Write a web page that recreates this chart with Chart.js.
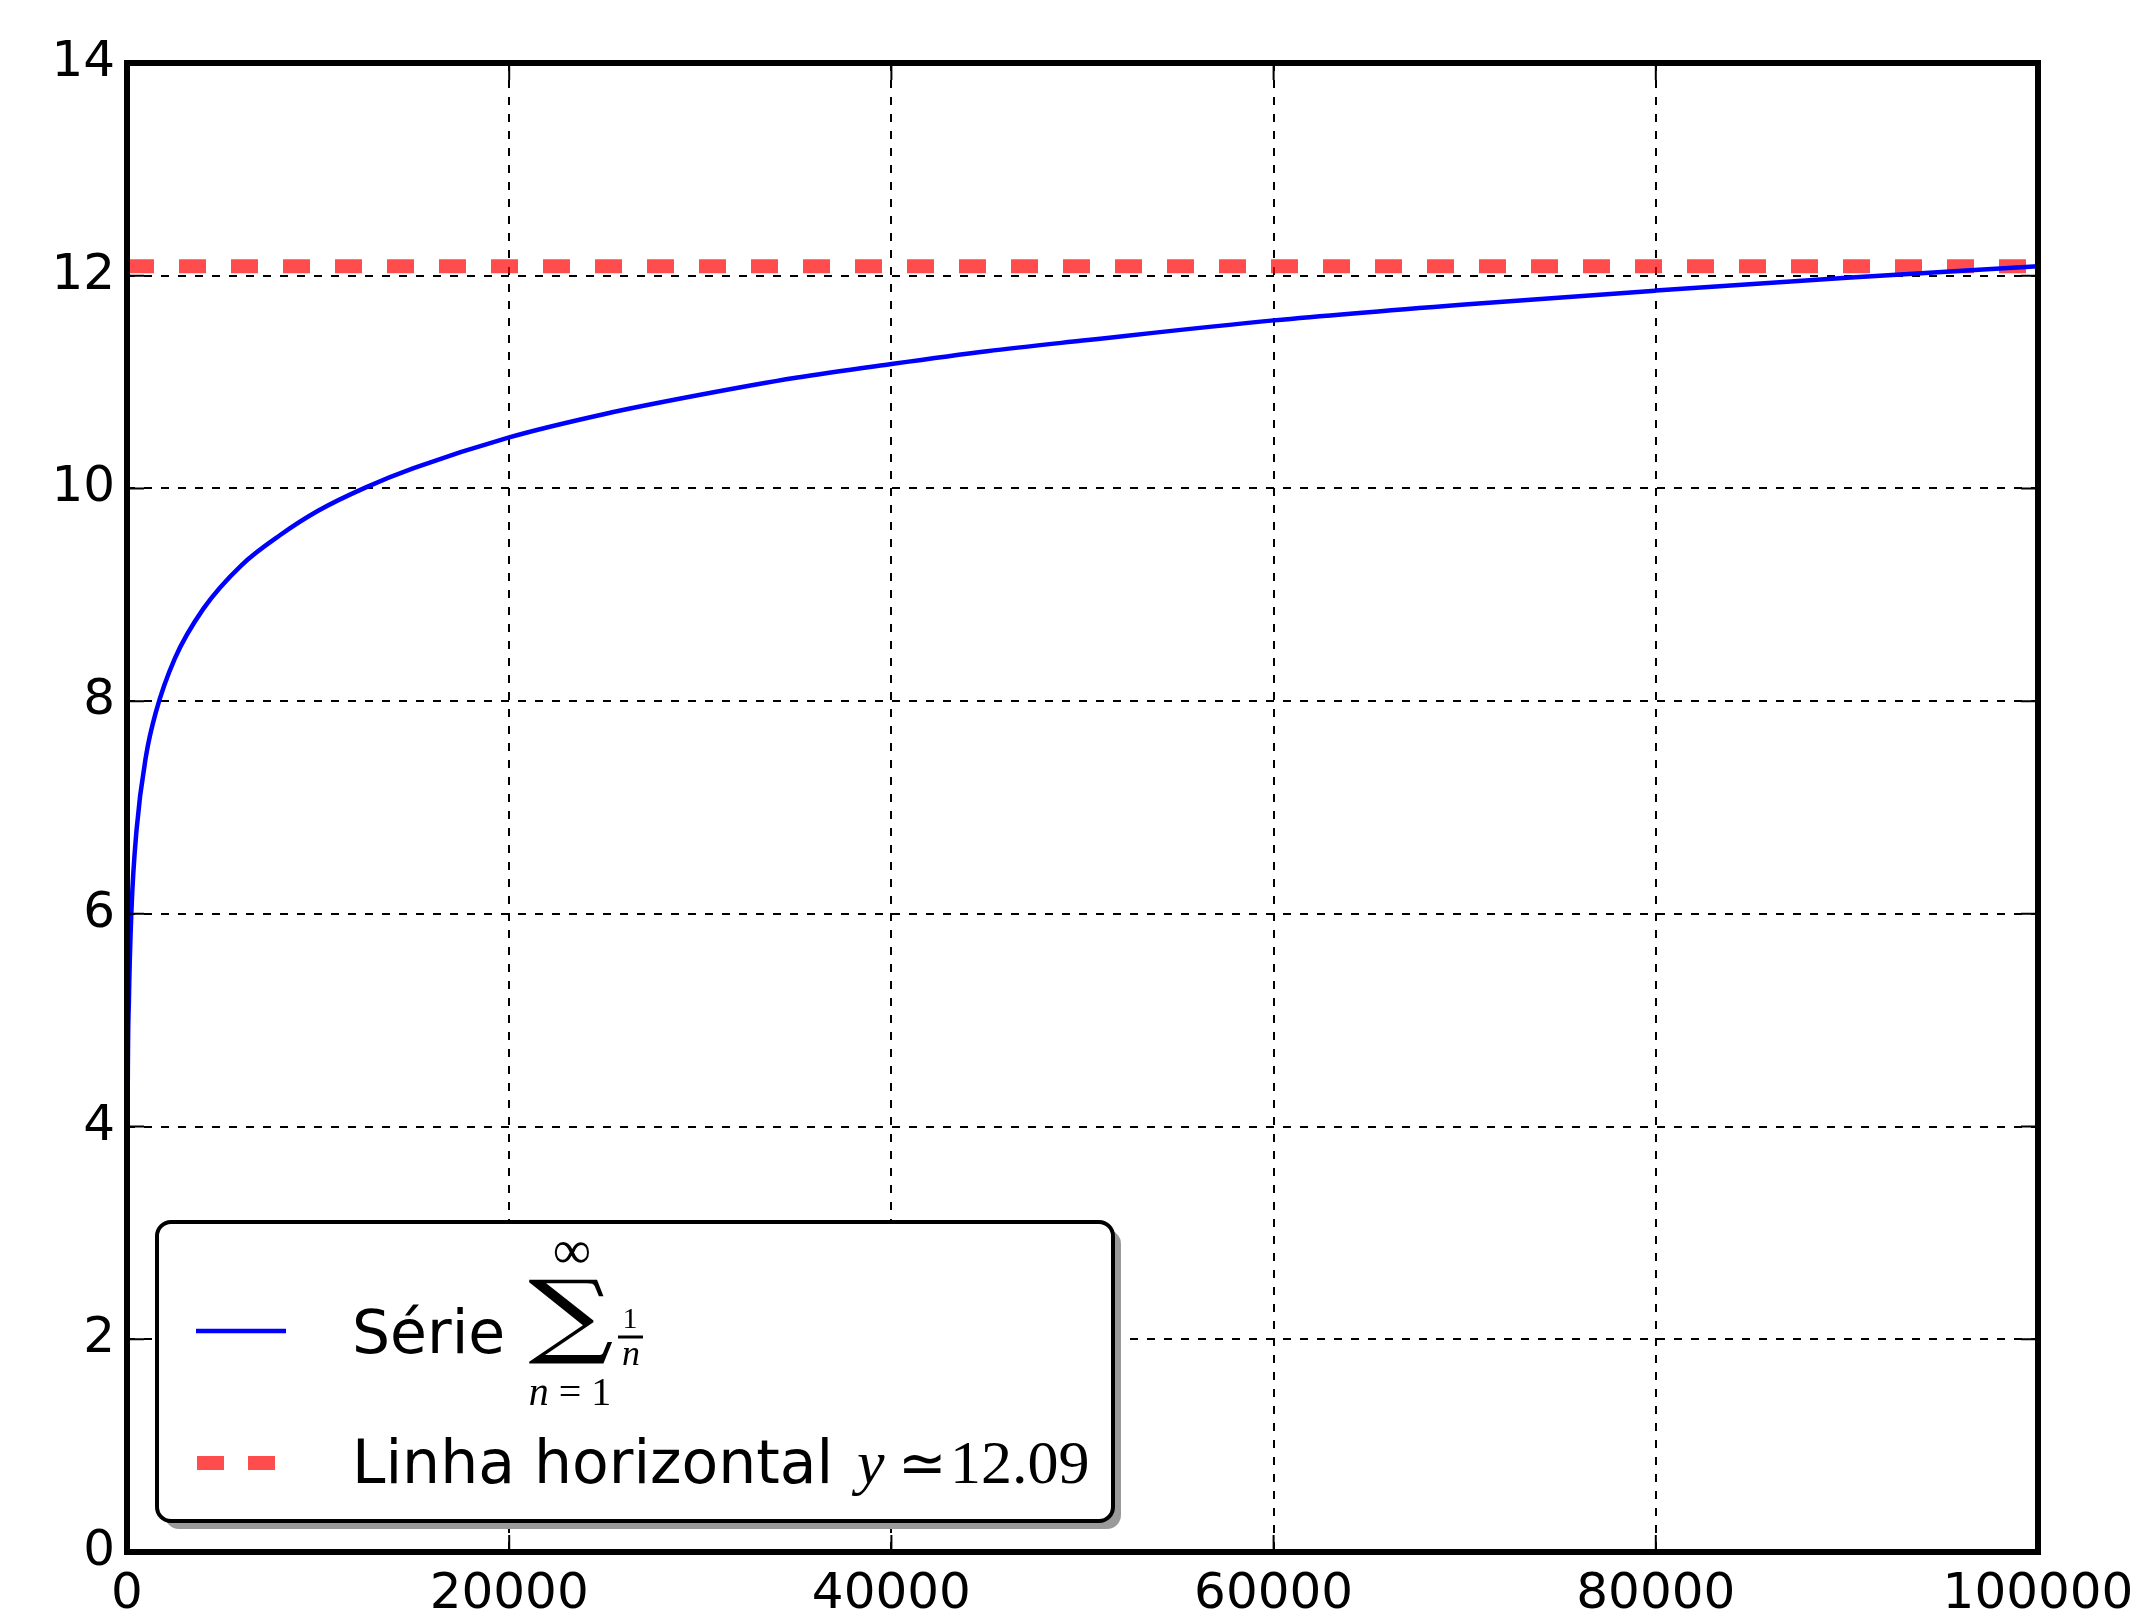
<!DOCTYPE html>
<html>
<head>
<meta charset="utf-8">
<script src="https://cdn.jsdelivr.net/npm/chart.js@4.4.1/dist/chart.umd.min.js"></script>
<style>
  html, body { margin: 0; padding: 0; background: #fff; }
  #wrap { position: relative; width: 2147px; height: 1618px; }
  #c { position: absolute; left: 0; top: 0; width: 2147px; height: 1618px; }
  #legend { position: absolute; left: 0; top: 0; pointer-events: none; }
</style>
</head>
<body>
<div id="wrap">
  <canvas id="c" width="2147" height="1618"></canvas>
  <svg id="legend" width="2147" height="1618" xmlns="http://www.w3.org/2000/svg">
    <rect x="165" y="1230" width="956" height="299" rx="14" fill="#9a9a9a"/>
    <rect x="157" y="1222" width="956" height="299" rx="14" fill="#fff" stroke="#000" stroke-width="4"/>
    <line x1="196" y1="1331" x2="286" y2="1331" stroke="#0000ff" stroke-width="4.5"/>
    <line x1="197" y1="1463" x2="278" y2="1463" stroke="rgba(255,0,0,0.7)" stroke-width="14" stroke-dasharray="27 24"/>
    <g font-family="DejaVu Sans" font-size="60" fill="#000">
      <text x="352" y="1353">Série</text>
      <text x="352" y="1483">Linha horizontal</text>
    </g>
    <g font-family="Liberation Serif" fill="#000">
      <text transform="translate(571,1346) scale(1.3,1)" font-family="DejaVu Serif" font-size="92" text-anchor="middle">∑</text>
      <text x="572" y="1268" font-size="54" text-anchor="middle">∞</text>
      <text x="570" y="1405" font-size="40" text-anchor="middle"><tspan font-style="italic">n</tspan> = 1</text>
      <text x="630" y="1328" font-size="30" text-anchor="middle">1</text>
      <line x1="618" y1="1337" x2="643" y2="1337" stroke="#000" stroke-width="3"/>
      <text x="631" y="1365" font-size="36" text-anchor="middle" font-style="italic">n</text>
      <text x="857" y="1483" font-size="62" font-style="italic">y</text>
      <text x="898" y="1483" font-size="58">≃</text>
      <text x="950" y="1483" font-size="62">12.09</text>
    </g>
  </svg>
</div>
<script>
// partial sums of the harmonic series
const seriesX = [1, 30, 100, 230, 500, 1000, 1500, 2500, 4000, 6000, 8000, 10000, 12500, 15000,
                 20000, 25000, 30000, 35000, 40000, 45000, 50000, 60000, 70000, 80000, 90000, 100000];
const seriesY = [1.0, 3.99, 5.19, 6.02, 6.79, 7.49, 7.89, 8.40, 8.87, 9.28, 9.56, 9.79, 10.01, 10.19,
                 10.48, 10.70, 10.88, 11.04, 11.17, 11.29, 11.39, 11.58, 11.73, 11.86, 11.98, 12.09];

// horizontal reference line
const lineX = [0, 100000];
const lineY = [12.09, 12.09];

const xTicks = [0, 20000, 40000, 60000, 80000, 100000];
const yTicks = [0, 2, 4, 6, 8, 10, 12, 14];

const toPoints = (xs, ys) => xs.map((x, i) => ({ x, y: ys[i] }));

// black frame around the plot + inward ticks on all four sides
const framePlugin = {
  id: 'frame',
  afterDraw(chart) {
    const { ctx, chartArea: a, scales: { x, y } } = chart;
    const len = 17;
    ctx.save();
    ctx.strokeStyle = '#000';
    ctx.lineWidth = 2;
    ctx.beginPath();
    x.ticks.forEach(t => {
      const px = x.getPixelForValue(t.value);
      ctx.moveTo(px, a.bottom); ctx.lineTo(px, a.bottom - len);
      ctx.moveTo(px, a.top); ctx.lineTo(px, a.top + len);
    });
    y.ticks.forEach(t => {
      const py = y.getPixelForValue(t.value);
      ctx.moveTo(a.left, py); ctx.lineTo(a.left + len, py);
      ctx.moveTo(a.right, py); ctx.lineTo(a.right - len, py);
    });
    ctx.stroke();
    ctx.lineWidth = 6;
    ctx.strokeRect(a.left, a.top, a.right - a.left, a.bottom - a.top);
    ctx.restore();
  }
};

const tickFont = { family: 'DejaVu Sans', size: 50 };

new Chart(document.getElementById('c'), {
  type: 'line',
  data: {
    datasets: [
      {
        label: 'Série',
        data: toPoints(seriesX, seriesY),
        borderColor: '#0000ff',
        borderWidth: 4.5,
        pointRadius: 0,
        cubicInterpolationMode: 'monotone',
        fill: false,
      },
      {
        label: 'Linha horizontal',
        data: toPoints(lineX, lineY),
        borderColor: 'rgba(255,0,0,0.7)',
        borderWidth: 14,
        borderDash: [27, 25],
        borderCapStyle: 'butt',
        pointRadius: 0,
        fill: false,
      },
    ],
  },
  options: {
    responsive: false,
    animation: false,
    layout: { padding: { top: 63, right: 109, left: 0, bottom: 0 } },
    plugins: { legend: { display: false }, tooltip: { enabled: false } },
    scales: {
      x: {
        type: 'linear',
        min: 0,
        max: 100000,
        afterBuildTicks: (s) => { s.ticks = xTicks.map(v => ({ value: v })); },
        afterFit: (s) => { s.height = 66; s.paddingLeft = 0; s.paddingRight = 0; },
        ticks: { color: '#000', font: tickFont, padding: 13, maxRotation: 0, autoSkip: false,
                 callback: (v) => String(v) },
        grid: { color: '#000', lineWidth: 2, drawTicks: false },
        border: { display: false, dash: [8, 9] },
      },
      y: {
        min: 0,
        max: 14,
        afterBuildTicks: (s) => { s.ticks = yTicks.map(v => ({ value: v })); },
        afterFit: (s) => { s.width = 127; },
        ticks: { color: '#000', font: tickFont, padding: 12, callback: (v) => String(v) },
        grid: { color: '#000', lineWidth: 2, drawTicks: false },
        border: { display: false, dash: [8, 9] },
      },
    },
  },
  plugins: [framePlugin],
});
</script>
</body>
</html>
